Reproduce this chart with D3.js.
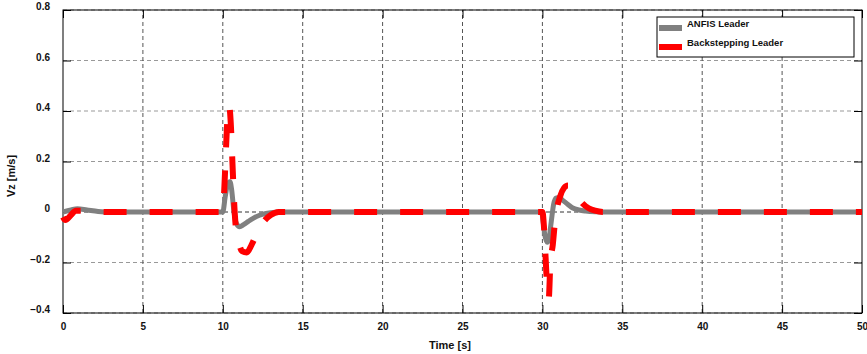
<!DOCTYPE html>
<html>
<head>
<meta charset="utf-8">
<script src="https://cdn.jsdelivr.net/npm/d3@7"></script>
<style>
  body { margin: 0; background: #fff; }
  svg { display: block; font-family: "Liberation Sans", Arial, sans-serif; }
</style>
</head>
<body>
<div id="chart"></div>
<script>
// x ticks and y ticks
const xTicks = [0, 5, 10, 15, 20, 25, 30, 35, 40, 45, 50];
const yTicks = [-0.4, -0.2, 0, 0.2, 0.4, 0.6, 0.8];

// ANFIS leader (time, vz)
const anfisT = [0, 0.5, 0.9, 1.5, 2.2, 3, 10, 10.15, 10.3, 10.45, 10.55, 10.7, 10.85, 11.05, 11.3, 11.6, 11.9, 12.3, 12.7, 13.3, 14,
  29.95, 30.05, 30.15, 30.3, 30.4, 30.55, 30.7, 30.85, 31.05, 31.3, 31.6, 31.9, 32.3, 32.7, 33.3, 34, 50];
const anfisV = [0, 0.008, 0.013, 0.008, 0.002, 0, 0, 0.06, 0.11, 0.12, 0.09, 0.0, -0.045, -0.058, -0.05, -0.037, -0.025, -0.013, -0.006, -0.001, 0,
  0, -0.04, -0.09, -0.12, -0.11, -0.04, 0.03, 0.055, 0.057, 0.045, 0.03, 0.016, 0.008, 0.004, 0.001, 0, 0];

// Backstepping leader (time, vz)
const backT = [0, 0.15, 0.5, 0.8, 1.2, 2, 3, 10, 10.1, 10.2, 10.3, 10.4, 10.5, 10.6, 10.7, 10.8, 11.0, 11.2, 11.5, 11.8, 12.2, 12.6, 13.0, 13.5,
  30, 30.1, 30.2, 30.3, 30.4, 30.5, 30.65, 30.8, 31.1, 31.35, 31.6, 31.9, 32.2, 32.5, 32.9, 33.3, 33.8, 50];
const backV = [-0.02, -0.032, -0.012, 0.005, 0.005, 0.001, 0, 0, 0.1, 0.25, 0.38, 0.42, 0.35, 0.2, 0.05, -0.05, -0.12, -0.155, -0.16, -0.13, -0.075, -0.035, -0.012, 0,
  0, -0.06, -0.18, -0.3, -0.34, -0.2, -0.13, -0.03, 0.06, 0.095, 0.105, 0.09, 0.06, 0.035, 0.015, 0.005, 0, 0];

const seriesNames = ["ANFIS Leader", "Backstepping Leader"];

const width = 867, height = 354;
const margin = {left: 63, right: 5, top: 10, bottom: 41};

const svg = d3.select("#chart").append("svg")
    .attr("width", width)
    .attr("height", height);

const x = d3.scaleLinear().domain([0, 50]).range([margin.left, width - margin.right]);
const y = d3.scaleLinear().domain([-0.4, 0.8]).range([height - margin.bottom, margin.top]);

const x0 = x.range()[0], x1 = x.range()[1];
const y0 = y.range()[0], y1 = y.range()[1];

// grid lines
svg.append("g")
    .selectAll("line")
    .data(yTicks)
    .enter().append("line")
    .attr("x1", x0).attr("x2", x1)
    .attr("y1", d => y(d)).attr("y2", d => y(d))
    .attr("stroke", d => d === 0 ? "#333" : "#999")
    .attr("stroke-dasharray", "4,3");

svg.append("g")
    .selectAll("line")
    .data(xTicks.slice(1, -1))
    .enter().append("line")
    .attr("x1", d => x(d)).attr("x2", d => x(d))
    .attr("y1", y0).attr("y2", y1)
    .attr("stroke", "#555")
    .attr("stroke-dasharray", "4,3");

// inner ticks on all sides
const tickLen = 8;
const axisB = svg.append("g").attr("transform", `translate(0,${y0})`)
    .call(d3.axisBottom(x).tickValues(xTicks).tickSizeInner(-tickLen).tickSizeOuter(0).tickPadding(10).tickFormat(d3.format("d")));
const axisT = svg.append("g").attr("transform", `translate(0,${y1})`)
    .call(d3.axisTop(x).tickValues(xTicks).tickSizeInner(-tickLen).tickSizeOuter(0).tickFormat(""));
const axisL = svg.append("g").attr("transform", `translate(${x0},0)`)
    .call(d3.axisLeft(y).tickValues(yTicks).tickSizeInner(-tickLen).tickSizeOuter(0).tickPadding(13)
        .tickFormat(d => d === 0 ? "0" : d3.format(".1f")(d)));
const axisR = svg.append("g").attr("transform", `translate(${x1},0)`)
    .call(d3.axisRight(y).tickValues(yTicks).tickSizeInner(-tickLen).tickSizeOuter(0).tickFormat(""));

[axisB, axisT, axisL, axisR].forEach(a => {
    a.select(".domain").remove();
    a.selectAll(".tick line").attr("stroke", "#000");
    a.selectAll("text").attr("font-size", 10).attr("font-weight", "bold").attr("fill", "#111");
});
axisL.selectAll("text").attr("dy", "-0.05em");

// box
svg.append("rect")
    .attr("x", x0).attr("y", y1)
    .attr("width", x1 - x0).attr("height", y0 - y1)
    .attr("fill", "none").attr("stroke", "#000").attr("stroke-width", 1);

// curves
const line = d3.line()
    .x(d => x(d[0]))
    .y(d => y(d[1]))
    .curve(d3.curveMonotoneX);

const anfis = anfisT.map((t, i) => [t, anfisV[i]]);
const back = backT.map((t, i) => [t, backV[i]]);

svg.append("path")
    .datum(anfis)
    .attr("d", line)
    .attr("fill", "none")
    .attr("stroke", "#808080")
    .attr("stroke-width", 5)
    .attr("stroke-linejoin", "round");

svg.append("path")
    .datum(back)
    .attr("d", line)
    .attr("fill", "none")
    .attr("stroke", "#ff0000")
    .attr("stroke-width", 6)
    .attr("stroke-dasharray", "23,23");

// legend
const legend = svg.append("g");
legend.append("rect")
    .attr("x", 657).attr("y", 17)
    .attr("width", 197).attr("height", 40)
    .attr("fill", "#fff").attr("stroke", "#000");

const legendColors = ["#808080", "#ff0000"];
seriesNames.forEach((name, i) => {
    const ly = 28 + i * 19;
    legend.append("line")
        .attr("x1", 659).attr("x2", 682)
        .attr("y1", ly).attr("y2", ly)
        .attr("stroke", legendColors[i])
        .attr("stroke-width", 6);
    legend.append("text")
        .attr("x", 687).attr("y", ly - 1)
        .attr("font-size", 9.5)
        .attr("font-weight", "bold")
        .attr("fill", "#111")
        .text(name);
});

// axis labels
svg.append("text")
    .attr("x", 450).attr("y", 349)
    .attr("text-anchor", "middle")
    .attr("font-size", 11)
    .attr("font-weight", "bold")
    .attr("fill", "#111")
    .text("Time [s]");

svg.append("text")
    .attr("transform", "translate(15,176) rotate(-90)")
    .attr("text-anchor", "middle")
    .attr("font-size", 11)
    .attr("font-weight", "bold")
    .attr("fill", "#111")
    .text("Vz [m/s]");
</script>
</body>
</html>
